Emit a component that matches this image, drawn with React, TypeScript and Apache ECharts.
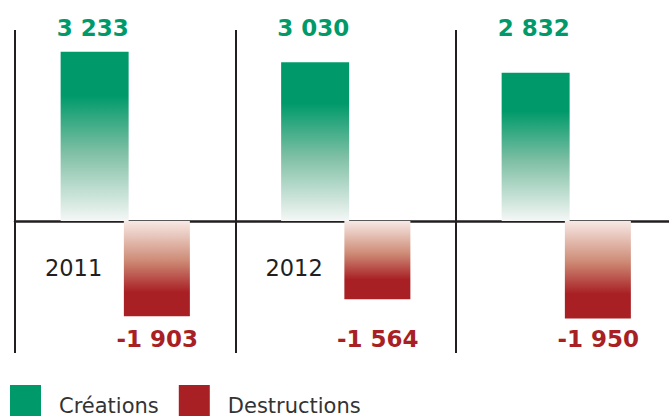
import React, { useEffect, useRef } from "react";
import * as echarts from "echarts";

const years = ["2011", "2012", ""];
const creations = [3233, 3030, 2832];
const destructions = [-1903, -1564, -1950];
const seriesNames = ["Créations", "Destructions"];

const GREEN = "#009a6a";
const RED = "#a81f24";
const INK = "#231f20";

const fmt = (v: number) => {
  const s = Math.abs(v).toString().replace(/\B(?=(\d{3})+(?!\d))/g, " ");
  return (v < 0 ? "-" : "") + s;
};

export default function App() {
  const ref = useRef<HTMLDivElement>(null);
  useEffect(() => {
    if (!ref.current) return;
    const chart = echarts.init(ref.current, undefined, { renderer: "svg" });
    const hiddenAxis = {
      axisLine: { show: false, onZero: false },
      axisTick: { show: false },
      splitLine: { show: false },
    };
    chart.setOption({
      animation: false,
      backgroundColor: "#ffffff",
      textStyle: { fontFamily: "'DejaVu Sans', Verdana, sans-serif" },
      grid: {
        left: 15,
        top: 30,
        width: 661.5,
        bottom: 63,
        containLabel: false,
        outerBoundsMode: "none",
      },
      legend: {
        left: 10,
        top: 385,
        padding: 0,
        itemWidth: 31,
        itemHeight: 41,
        itemGap: 20,
        icon: "rect",
        textStyle: { fontSize: 21, color: "#333333", padding: [0, 0, 0, 13] },
        data: [
          { name: seriesNames[0], itemStyle: { color: GREEN } },
          { name: seriesNames[1], itemStyle: { color: RED } },
        ],
      },
      xAxis: [
        {
          type: "category",
          data: years,
          position: "bottom",
          axisLine: { show: true, onZero: true, onZeroAxisIndex: 0, lineStyle: { color: INK, width: 2.5 } },
          axisTick: { show: false },
          splitLine: { show: true, lineStyle: { color: INK, width: 2 } },
          axisLabel: { show: false },
        },
        {
          type: "category",
          data: creations.map(fmt),
          position: "top",
          offset: -9,
          ...hiddenAxis,
          axisLabel: {
            interval: 0,
            fontSize: 23,
            fontWeight: "bold",
            color: GREEN,
            margin: 0,
            align: "center",
            padding: [0, 65, 0, 0],
          },
        },
        {
          type: "category",
          data: destructions.map(fmt),
          position: "bottom",
          offset: -28,
          ...hiddenAxis,
          axisLabel: {
            interval: 0,
            fontSize: 23,
            fontWeight: "bold",
            color: RED,
            margin: 2,
            align: "center",
            padding: [0, 0, 0, 64],
          },
        },
        {
          type: "category",
          data: years,
          position: "bottom",
          offset: -132,
          ...hiddenAxis,
          axisLabel: {
            interval: 0,
            fontSize: 22.5,
            color: INK,
            margin: 35,
            align: "right",
            padding: [0, 23, 0, 0],
          },
        },
      ],
      yAxis: [
        { type: "value", min: -2521, max: 3648, show: false, splitLine: { show: false } },
        { type: "value", min: -2640, max: 3820, show: false, splitLine: { show: false } },
      ],
      series: [
        {
          name: seriesNames[0],
          type: "bar",
          xAxisIndex: 0,
          yAxisIndex: 0,
          data: creations,
          barWidth: 68,
          barGap: "-7%",
          itemStyle: {
            color: new echarts.graphic.LinearGradient(0, 0, 0, 1, [
              { offset: 0, color: GREEN },
              { offset: 0.26, color: GREEN },
              { offset: 0.6, color: "#80c0a6" },
              { offset: 1, color: "#f5f7f6" },
            ]),
          },
          z: 1,
        },
        {
          name: seriesNames[1],
          type: "bar",
          xAxisIndex: 0,
          yAxisIndex: 1,
          data: destructions,
          barWidth: 66,
          itemStyle: {
            color: new echarts.graphic.LinearGradient(0, 0, 0, 1, [
              { offset: 0, color: "#f7e9e5" },
              { offset: 0.42, color: "#cd8a75" },
              { offset: 0.75, color: RED },
              { offset: 1, color: RED },
            ]),
          },
          z: 1,
        },
      ],
    });
    return () => chart.dispose();
  }, []);
  return <div ref={ref} style={{ width: 669, height: 416, position: "absolute", left: 0, top: 0 }} />;
}
